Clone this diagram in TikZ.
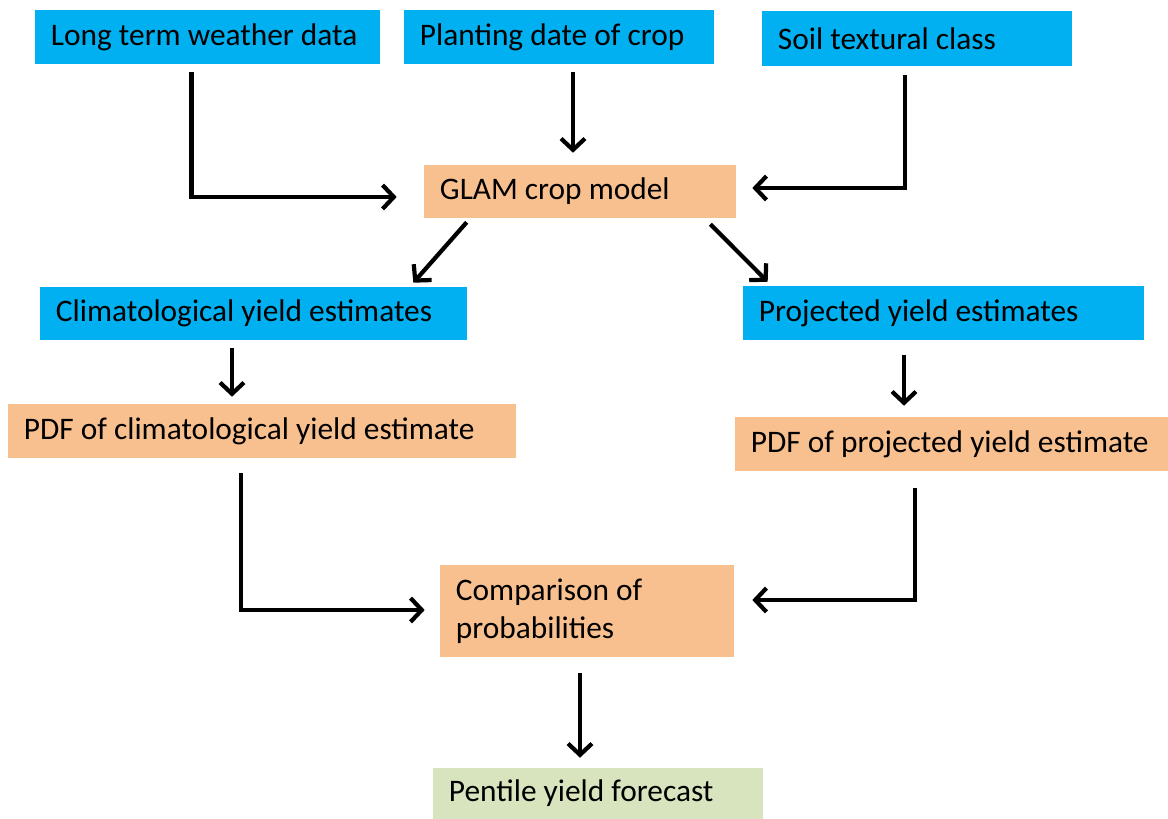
\documentclass[tikz,border=0pt]{standalone}
\usepackage{fontspec}
\setmainfont{Carlito}
\usetikzlibrary{positioning}
\usetikzlibrary{arrows,arrows.meta,shapes}
\usetikzlibrary{calc}
\definecolor{skyblue}{HTML}{00B0F0}
\definecolor{peach}{HTML}{F9C08F}
\definecolor{sage}{HTML}{D7E4BD}
\tikzstyle{block}=[rectangle,inner xsep=16*0.025cm,inner ysep=0pt,align=flush left,font=\fontsize{22.3}{27}\selectfont]
\tikzstyle{blueblock}=[block,fill=skyblue]
\tikzstyle{orangeblock}=[block,fill=peach]
\tikzstyle{greenblock}=[block,fill=sage]
\tikzstyle{edge} = [draw,line width=3pt,-{Straight Barb[length=8pt,width=17pt]}]
\begin{document}
\begin{tikzpicture}[x=0.025cm,y=-0.025cm]
    \useasboundingbox (0,0) rectangle (1168,819);
    % Input blocks on top
    \foreach \pos/\name/\bwidth/\bheight/\txt [evaluate=\bwidth as \textwd using (\bwidth-32)*0.71132] in {{(207.5,37)/wthr/345/54/Long term weather data}, {(559,37)/plant/310/54/Planting date of crop}, {(917,38.5)/soil/310/55/Soil textural class}, {(253.5,313.5)/clim/427/53/Climatological yield estimates}, {(943.5,313)/proj/401/54/Projected yield estimates}}
        \node[blueblock,text width=\textwd pt,minimum height=\bheight*0.025cm] (\name) at \pos {\txt};
    % Model and probability blocks
    \foreach \pos/\name/\bwidth/\bheight/\txt [evaluate=\bwidth as \textwd using (\bwidth-32)*0.71132] in {{(580,191.5)/glam/312/53/GLAM crop model}, {(262,431)/pdfc/508/54/PDF of climatological yield estimate}, {(951.5,444)/pdfp/433/54/PDF of projected yield estimate}, {(587,611)/comp/294/92/Comparison of\\probabilities}}
        \node[orangeblock,text width=\textwd pt,minimum height=\bheight*0.025cm] (\name) at \pos {\txt};
    \node[greenblock,text width=211.97pt,minimum height=51*0.025cm] (pent) at (598,793.5) {Pentile yield forecast};

    % Connect the blocks
    \path[edge] ($(wthr.south)+(-16,8)$) |- ($(glam.west)+(-27,5.5)$);
    \path[edge] ($(plant.south)+(14,8)$) -- ($(glam.north)+(-7,-12)$);
    \path[edge] ($(soil.south)+(-12,9)$) |- ($(glam.east)+(16,-3.5)$);
    \path[edge] ($(glam.south west)+(43,4)$) -- ($(clim.north east)+(-54,-4)$);
    \path[edge] ($(glam.south east)+(-26,6)$) -- ($(proj.north west)+(25,-4)$);
    \path[edge] ($(clim.south)+(-21.5,8)$) -- ($(pdfc.north)+(-30,-7)$);
    \path[edge] ($(proj.south)+(-39.5,15)$) -- ($(pdfp.north)+(-47.5,-11)$);
    \path[edge] ($(pdfc.south)+(-21,15)$) |- ($(comp.west)+(-15,-1)$);
    \path[edge] ($(pdfp.south)+(-36.5,17)$) |- ($(comp.east)+(18,-11)$);
    \path[edge] ($(comp.south)+(-7,16)$) -- ($(pent.north)+(-18,-10)$);
\end{tikzpicture}
\end{document}
